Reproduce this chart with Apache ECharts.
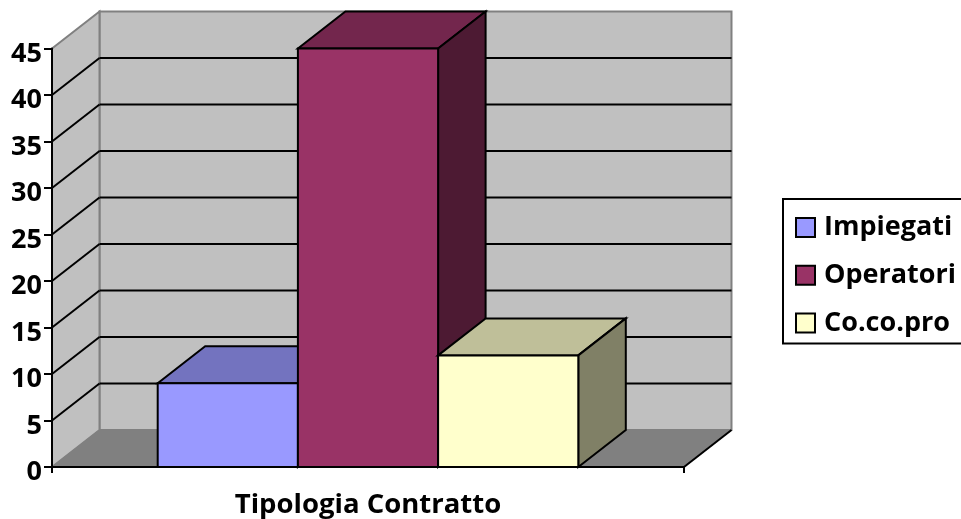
<!DOCTYPE html>
<html>
<head>
<meta charset="utf-8">
<title>Tipologia Contratto</title>
<script src="https://cdn.jsdelivr.net/npm/echarts@6/dist/echarts.min.js"></script>
<style>
	html, body {margin: 0; padding: 0; background: #fff; overflow: hidden;}
	#chart {width: 961px; height: 519px;}
</style>
</head>
<body>
<div id="chart"></div>
<script>
var categories = ['Tipologia Contratto'];
var seriesNames = ['Impiegati', 'Operatori', 'Co.co.pro'];
var impiegati = [9];
var operatori = [45];
var cocopro = [12];
var gridTicks = [5, 10, 15, 20, 25, 30, 35, 40];

var FONT = '"Open Sans"';
// fake 3d: how far the back wall sits from the axes, in px
var DEPTH_X = 47.5;
var DEPTH_Y = 37;
var BAR_W = 140.2;
var LINE_W = 2;

function poly(points, fill, stroke, width) {
	return {
		type: 'polygon',
		shape: {points: points},
		style: {fill: fill, stroke: stroke, lineWidth: width}
	};
}

function segment(x1, y1, x2, y2, color) {
	return {
		type: 'line',
		shape: {x1: x1, y1: y1, x2: x2, y2: y2},
		style: {stroke: color, lineWidth: LINE_W, fill: null}
	};
}

// back wall, side wall, floor
function renderWalls(params, api) {
	var r = params.coordSys;
	var top = r.y, bottom = r.y + r.height, left = r.x, right = r.x + r.width;
	return {
		type: 'group',
		children: [
			poly([[left + DEPTH_X, top - DEPTH_Y], [right + DEPTH_X, top - DEPTH_Y], [right + DEPTH_X, bottom - DEPTH_Y], [left + DEPTH_X, bottom - DEPTH_Y]], '#c0c0c0', '#808080', LINE_W),
			poly([[left, top], [left + DEPTH_X, top - DEPTH_Y], [left + DEPTH_X, bottom - DEPTH_Y], [left, bottom]], '#c0c0c0', '#808080', LINE_W),
			poly([[left, bottom], [left + DEPTH_X, bottom - DEPTH_Y], [right + DEPTH_X, bottom - DEPTH_Y], [right, bottom]], '#808080', '#808080', 1),
			segment(right, bottom, right + DEPTH_X, bottom - DEPTH_Y, '#000')
		]
	};
}

function renderGridLine(params, api) {
	var r = params.coordSys;
	var y = api.coord([0, api.value(0)])[1];
	return {
		type: 'group',
		children: [
			segment(r.x, y, r.x + DEPTH_X, y - DEPTH_Y, '#000'),
			segment(r.x + DEPTH_X, y - DEPTH_Y, r.x + r.width + DEPTH_X, y - DEPTH_Y, '#000')
		]
	};
}

function barRenderer(index, topColor, sideColor) {
	return function (params, api) {
		var c = api.coord([api.value(0), api.value(1)]);
		var base = api.coord([api.value(0), 0]);
		var x1 = c[0] + (index - 1.5) * BAR_W;
		var x2 = x1 + BAR_W;
		var y = c[1], y0 = base[1];
		return {
			type: 'group',
			children: [
				poly([[x1, y], [x1 + DEPTH_X, y - DEPTH_Y], [x2 + DEPTH_X, y - DEPTH_Y], [x2, y]], topColor, '#000', LINE_W),
				poly([[x2, y], [x2 + DEPTH_X, y - DEPTH_Y], [x2 + DEPTH_X, y0 - DEPTH_Y], [x2, y0]], sideColor, '#000', LINE_W),
				{
					type: 'rect',
					shape: {x: x1, y: y, width: BAR_W, height: y0 - y},
					style: api.style()
				}
			]
		};
	};
}

function barSeries(name, values, index, color, topColor, sideColor) {
	return {
		type: 'custom',
		name: name,
		coordinateSystem: 'cartesian2d',
		renderItem: barRenderer(index, topColor, sideColor),
		itemStyle: {color: color, borderColor: '#000', borderWidth: LINE_W},
		encode: {x: 0, y: 1},
		data: values.map(function (v, i) { return [i, v]; }),
		silent: true
	};
}

var chart = echarts.init(document.getElementById('chart'), null, {renderer: 'canvas'});

var option = {
	animation: false,
	backgroundColor: '#fff',
	grid: {left: 52, top: 48.5, width: 632, height: 418.5, containLabel: false, outerBoundsMode: 'none'},
	legend: {
		data: seriesNames,
		orient: 'vertical',
		left: 783,
		top: 199,
		padding: [15, 40, 7, 12],
		borderColor: '#000',
		borderWidth: 2,
		icon: 'rect',
		itemWidth: 19,
		itemHeight: 19,
		itemGap: 20.7,
		textStyle: {fontFamily: FONT, fontWeight: 'bold', fontSize: 27, color: '#000', padding: [0, 0, 0, 4]}
	},
	xAxis: {
		type: 'category',
		data: categories,
		z: 5,
		axisLine: {lineStyle: {color: '#000', width: LINE_W}},
		axisTick: {show: true, length: 6, lineStyle: {color: '#000', width: LINE_W}},
		axisLabel: {fontFamily: FONT, fontWeight: 'bold', fontSize: 27.5, color: '#000', margin: 24},
		splitLine: {show: false}
	},
	yAxis: {
		type: 'value',
		min: 0,
		max: 45,
		interval: 5,
		z: 5,
		axisLine: {show: true, lineStyle: {color: '#000', width: LINE_W}},
		axisTick: {show: true, length: 8, lineStyle: {color: '#000', width: LINE_W}},
		// labels sit a bit under their tick in the original
		axisLabel: {fontFamily: FONT, fontWeight: 'bold', fontSize: 27, color: '#000', margin: 10, verticalAlign: 'top', lineHeight: 11},
		splitLine: {show: false}
	},
	series: [
		{type: 'custom', coordinateSystem: 'cartesian2d', renderItem: renderWalls, data: [[0, 0]], silent: true},
		{type: 'custom', coordinateSystem: 'cartesian2d', renderItem: renderGridLine, encode: {y: 0}, data: gridTicks.map(function (t) { return [t]; }), silent: true},
		barSeries(seriesNames[0], impiegati, 0, '#9999ff', '#7373bf', '#5c5c99'),
		barSeries(seriesNames[1], operatori, 1, '#993366', '#73264d', '#4d1a33'),
		barSeries(seriesNames[2], cocopro, 2, '#ffffcc', '#bfbf99', '#808066')
	]
};
chart.setOption(option);
</script>
</body>
</html>
